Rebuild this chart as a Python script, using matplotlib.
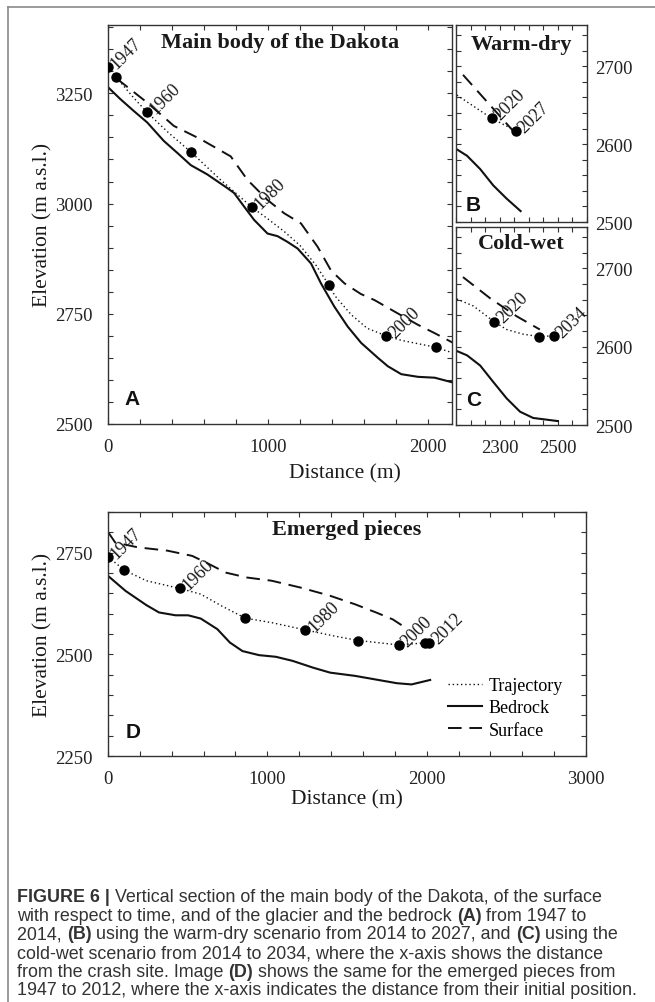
import matplotlib
matplotlib.use("Agg")
import matplotlib.pyplot as plt
from matplotlib.ticker import MultipleLocator, FixedLocator
from matplotlib.lines import Line2D

# ---------------- data ----------------
# Panel A: main body of the Dakota (1947-2014)
a_pts_x = [0, 50, 244, 518, 898, 1379, 1739, 2048]
a_pts_y = [3309, 3287, 3207, 3117, 2992, 2816, 2700, 2674]
a_pts_lab = ["1947", "", "1960", "", "1980", "", "2000", ""]
a_traj_x = [0, 50, 160, 244, 380, 518, 700, 898, 1000, 1100, 1200, 1300, 1379, 1420, 1520, 1620, 1739, 1830, 1940, 2048, 2157]
a_traj_y = [3309, 3287, 3240, 3207, 3160, 3117, 3055, 2992, 2965, 2937, 2905, 2860, 2816, 2790, 2748, 2717, 2700, 2690, 2682, 2674, 2661]
a_bed_x = [0, 77, 161, 245, 349, 433, 518, 621, 746, 788, 851, 913, 997, 1060, 1122, 1185, 1269, 1331, 1415, 1498, 1582, 1687, 1749, 1833, 1937, 2042, 2157]
a_bed_y = [3264, 3237, 3210, 3184, 3142, 3115, 3087, 3066, 3035, 3024, 2993, 2963, 2932, 2926, 2913, 2898, 2864, 2819, 2766, 2721, 2684, 2650, 2631, 2613, 2607, 2605, 2594]
a_srf_x = [56, 245, 412, 579, 767, 871, 997, 1101, 1206, 1310, 1394, 1478, 1580, 1666, 1791, 1937, 2042, 2157]
a_srf_y = [3283, 3229, 3176, 3146, 3107, 3054, 3008, 2978, 2955, 2902, 2848, 2819, 2795, 2781, 2755, 2725, 2706, 2684]

# Panel B: warm-dry scenario (2014-2027)
b_pts_x = [2273, 2356]
b_pts_y = [2633, 2617]
b_pts_lab = ["2020", "2027"]
b_traj_x = [2153, 2273, 2356, 2368]
b_traj_y = [2663, 2633, 2617, 2612]
b_bed_x = [2150, 2188, 2233, 2278, 2324, 2372]
b_bed_y = [2594, 2585, 2568, 2547, 2530, 2514]
b_srf_x = [2174, 2370]
b_srf_y = [2689, 2607]

# Panel C: cold-wet scenario (2014-2034)
c_pts_x = [2281, 2436, 2486]
c_pts_y = [2632, 2613, 2614]
c_pts_lab = ["2020", "", "2034"]
c_traj_x = [2153, 2210, 2281, 2324, 2381, 2436, 2486]
c_traj_y = [2661, 2652, 2632, 2622, 2616, 2613, 2614]
c_bed_x = [2150, 2188, 2233, 2278, 2324, 2370, 2415, 2500]
c_bed_y = [2595, 2589, 2576, 2555, 2534, 2517, 2509, 2505]
c_srf_x = [2174, 2267, 2358, 2438]
c_srf_y = [2689, 2662, 2639, 2622]

# Panel D: emerged pieces (1947-2012)
d_pts_x = [0, 102, 451, 862, 1239, 1572, 1826, 1991, 2017]
d_pts_y = [2740, 2707, 2662, 2589, 2560, 2534, 2523, 2529, 2529]
d_pts_lab = ["1947", "", "1960", "", "1980", "", "2000", "", "2012"]
d_traj_x = [0, 102, 241, 451, 582, 713, 862, 1027, 1239, 1420, 1572, 1826, 2017]
d_traj_y = [2740, 2707, 2681, 2662, 2648, 2619, 2589, 2578, 2560, 2545, 2534, 2523, 2529]
d_bed_x = [0, 110, 241, 320, 424, 503, 582, 686, 765, 844, 948, 1053, 1158, 1289, 1394, 1551, 1682, 1813, 1905, 2022]
d_bed_y = [2693, 2656, 2621, 2603, 2596, 2596, 2588, 2562, 2529, 2508, 2498, 2494, 2484, 2467, 2455, 2447, 2438, 2429, 2426, 2437]
d_srf_x = [0, 45, 189, 372, 529, 634, 739, 870, 1027, 1210, 1394, 1551, 1682, 1787, 1865]
d_srf_y = [2801, 2775, 2763, 2755, 2742, 2722, 2701, 2689, 2681, 2664, 2644, 2623, 2603, 2586, 2566]

legend_labels = ["Trajectory", "Bedrock", "Surface"]

caption_lines = [
    [("FIGURE 6 |", True), (" Vertical section of the main body of the Dakota, of the surface", False)],
    [("with respect to time, and of the glacier and the bedrock ", False), ("(A)", True), (" from 1947 to", False)],
    [("2014, ", False), ("(B)", True), (" using the warm-dry scenario from 2014 to 2027, and ", False), ("(C)", True), (" using the", False)],
    [("cold-wet scenario from 2014 to 2034, where the x-axis shows the distance", False)],
    [("from the crash site. Image ", False), ("(D)", True), (" shows the same for the emerged pieces from", False)],
    [("1947 to 2012, where the x-axis indicates the distance from their initial position.", False)],
]

# ---------------- style ----------------
W, H = 655, 1003
SERIF = "Liberation Serif"
SANS = "Liberation Sans"
INK = "#111111"
SPINE = "#333333"
TICK_FS = 13.5
YEAR_FS = 13
TITLE_FS = 16
LABEL_FS = 15.5
DASH = (0, (7, 4))
DOT = (0, (1, 2))

plt.rcParams["font.family"] = [SERIF, "DejaVu Serif"]

fig = plt.figure(figsize=(W / 100, H / 100), dpi=100)


def px_axes(l, t, r, b):
    return fig.add_axes([l / W, 1 - b / H, (r - l) / W, (b - t) / H])


axA = px_axes(108, 26, 452, 425)
axB = px_axes(456, 26, 587, 223)
axC = px_axes(456, 228, 587, 426)
axD = px_axes(108, 513, 586, 757)


def style(ax):
    ax.tick_params(which="both", direction="in", top=True, right=True, left=True, bottom=True,
                   length=3.5, width=0.8, color=SPINE, labelsize=TICK_FS, labelcolor="#222222")
    ax.tick_params(axis="x", pad=10)
    ax.tick_params(axis="y", pad=11)
    for s in ax.spines.values():
        s.set_color(SPINE)
        s.set_linewidth(1.0)


def draw(ax, px, py, labs, tx, ty, bx, by, sx, sy):
    ax.plot(tx, ty, color=INK, lw=1.0, ls=DOT)
    ax.plot(bx, by, color=INK, lw=1.5, ls="-")
    ax.plot(sx, sy, color=INK, lw=1.4, ls=DASH)
    ax.plot(px, py, "o", color="black", ms=6.5, zorder=5)
    for x, y, s in zip(px, py, labs):
        if s:
            ax.annotate(s, (x, y), xytext=(4, 1), textcoords="offset points", rotation=45,
                        rotation_mode="anchor", ha="left", va="center", fontsize=YEAR_FS,
                        color="#1a1a1a", zorder=6)


# Panel A
draw(axA, a_pts_x, a_pts_y, a_pts_lab, a_traj_x, a_traj_y, a_bed_x, a_bed_y, a_srf_x, a_srf_y)
axA.set_xlim(0, 2150)
axA.set_ylim(2500, 3405)
axA.xaxis.set_major_locator(MultipleLocator(1000))
axA.xaxis.set_minor_locator(MultipleLocator(200))
axA.yaxis.set_major_locator(MultipleLocator(250))
axA.yaxis.set_minor_locator(MultipleLocator(50))
style(axA)
axA.tick_params(labelright=False, labeltop=False)
axA.text(0.5, 0.958, "Main body of the Dakota", transform=axA.transAxes, ha="center", va="center",
         fontsize=TITLE_FS, fontweight="bold", color="#1a1a1a")

# Panel B
draw(axB, b_pts_x, b_pts_y, b_pts_lab, b_traj_x, b_traj_y, b_bed_x, b_bed_y, b_srf_x, b_srf_y)
# Panel C
draw(axC, c_pts_x, c_pts_y, c_pts_lab, c_traj_x, c_traj_y, c_bed_x, c_bed_y, c_srf_x, c_srf_y)
for ax, title, ty in [(axB, "Warm-dry", 0.905), (axC, "Cold-wet", 0.918)]:
    ax.set_xlim(2150, 2600)
    ax.set_ylim(2500, 2753)
    ax.xaxis.set_major_locator(FixedLocator([2300, 2500]))
    ax.xaxis.set_minor_locator(MultipleLocator(50))
    ax.yaxis.set_major_locator(MultipleLocator(100))
    ax.yaxis.set_minor_locator(MultipleLocator(20))
    style(ax)
    ax.tick_params(axis="y", pad=6)
    ax.tick_params(labelleft=False, labelright=True, labeltop=False)
    ax.text(0.5, ty, title, transform=ax.transAxes, ha="center", va="center",
            fontsize=TITLE_FS, fontweight="bold", color="#1a1a1a")
axB.tick_params(labelbottom=False)

# Panel D
draw(axD, d_pts_x, d_pts_y, d_pts_lab, d_traj_x, d_traj_y, d_bed_x, d_bed_y, d_srf_x, d_srf_y)
axD.set_xlim(0, 3000)
axD.set_ylim(2250, 2850)
axD.xaxis.set_major_locator(MultipleLocator(1000))
axD.xaxis.set_minor_locator(MultipleLocator(200))
axD.yaxis.set_major_locator(MultipleLocator(250))
axD.yaxis.set_minor_locator(MultipleLocator(50))
style(axD)
axD.tick_params(labelright=False, labeltop=False)
axD.text(0.5, 0.929, "Emerged pieces", transform=axD.transAxes, ha="center", va="center",
         fontsize=TITLE_FS, fontweight="bold", color="#1a1a1a")
handles = [Line2D([], [], color=INK, lw=1.0, ls=DOT),
           Line2D([], [], color=INK, lw=1.5, ls="-"),
           Line2D([], [], color=INK, lw=1.4, ls=DASH)]
axD.legend(handles, legend_labels, loc="upper left", bbox_to_anchor=(0.711, 0.322), frameon=False,
           fontsize=13, handlelength=1.9, handletextpad=0.35, labelspacing=0.28,
           borderpad=0, borderaxespad=0)

# panel letters
for ax, s, x, y in [(axA, "A", 0.07, 0.063), (axB, "B", 0.132, 0.091), (axC, "C", 0.135, 0.13), (axD, "D", 0.052, 0.101)]:
    ax.text(x, y, s, transform=ax.transAxes, ha="center", va="center", fontsize=15,
            fontweight="bold", family=SANS, color="#111111")

# axis labels
fig.text(43 / W, 1 - 225 / H, "Elevation (m a.s.l.)", rotation=90, ha="center", va="center", fontsize=LABEL_FS, color="#1a1a1a")
fig.text(43 / W, 1 - 635 / H, "Elevation (m a.s.l.)", rotation=90, ha="center", va="center", fontsize=LABEL_FS, color="#1a1a1a")
fig.text(345 / W, 1 - 474 / H, "Distance (m)", ha="center", va="center", fontsize=LABEL_FS, color="#1a1a1a")
fig.text(347 / W, 1 - 800 / H, "Distance (m)", ha="center", va="center", fontsize=LABEL_FS, color="#1a1a1a")

# outer frame (top and left edges)
fig.add_artist(Line2D([8 / W, 1.0], [1 - 8 / H, 1 - 8 / H], transform=fig.transFigure, color="#8a8a8a", lw=1.2))
fig.add_artist(Line2D([8 / W, 8 / W], [1 - 8 / H, 0], transform=fig.transFigure, color="#8a8a8a", lw=1.2))

# caption with mixed weights
renderer = fig.canvas.get_renderer()
CAP_FS = 12.9


def text_width(s, bold):
    w = "bold" if bold else "normal"
    t1 = fig.text(0, 0, "|" + s + "|", fontsize=CAP_FS, family=SANS, fontweight=w)
    t2 = fig.text(0, 0, "||", fontsize=CAP_FS, family=SANS, fontweight=w)
    width = t1.get_window_extent(renderer).width - t2.get_window_extent(renderer).width
    t1.remove()
    t2.remove()
    return width


base0 = 902
step = 18.7
for i, runs in enumerate(caption_lines):
    x = 17
    y = H - (base0 + i * step)
    for s, bold in runs:
        fig.text(x / W, y / H, s, fontsize=CAP_FS, family=SANS, fontweight="bold" if bold else "normal",
                 ha="left", va="baseline", color="#333333")
        x += text_width(s, bold)

fig.savefig("out.png", dpi=100)
